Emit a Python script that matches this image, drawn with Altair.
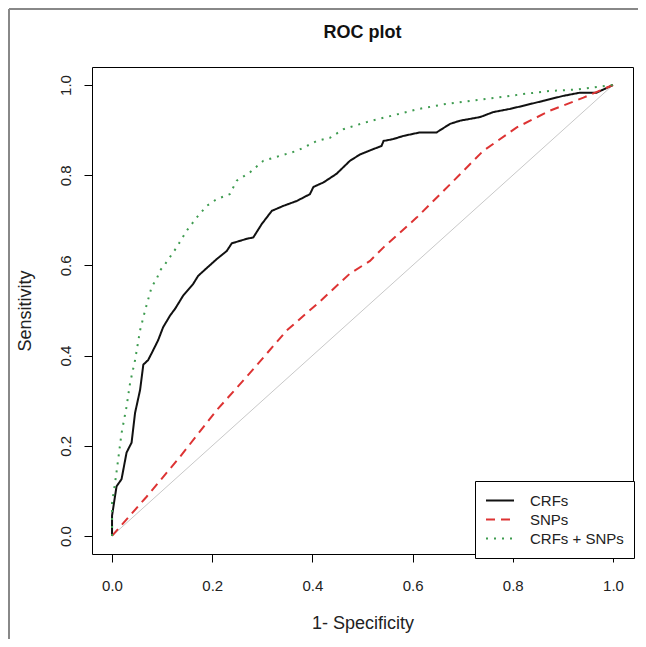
import altair as alt
import pandas as pd

series_names = ["CRFs", "SNPs", "CRFs + SNPs"]
series_colors = ["#111111", "#dd3333", "#3d9b4f"]
series_dashes = [[1, 0], [9, 6], [2, 6]]

crf_x = [0, 0, 0.009, 0.019, 0.029, 0.039, 0.046, 0.056, 0.0625, 0.072, 0.079, 0.092,
         0.102, 0.116, 0.126, 0.142, 0.162, 0.172, 0.196, 0.209, 0.229, 0.239, 0.269,
         0.282, 0.299, 0.319, 0.342, 0.369, 0.395, 0.402, 0.422, 0.448, 0.475, 0.495,
         0.515, 0.538, 0.542, 0.561, 0.581, 0.615, 0.648, 0.675, 0.695, 0.735, 0.761,
         0.794, 0.821, 0.861, 0.901, 0.934, 0.967, 1.0]
crf_y = [0, 0.045, 0.11, 0.126, 0.185, 0.207, 0.273, 0.324, 0.38, 0.39, 0.405, 0.434,
         0.463, 0.489, 0.504, 0.533, 0.559, 0.577, 0.601, 0.614, 0.632, 0.649, 0.659,
         0.662, 0.692, 0.721, 0.732, 0.743, 0.758, 0.774, 0.784, 0.803, 0.832, 0.846,
         0.855, 0.865, 0.876, 0.880, 0.887, 0.895, 0.895, 0.914, 0.921, 0.929, 0.940,
         0.947, 0.954, 0.965, 0.976, 0.983, 0.983, 1.0]

snp_x = [0, 0.069, 0.136, 0.209, 0.275, 0.349, 0.415, 0.475, 0.515, 0.542, 0.608,
         0.675, 0.741, 0.808, 0.874, 0.941, 1.0]
snp_y = [0, 0.087, 0.176, 0.279, 0.361, 0.456, 0.52, 0.582, 0.610, 0.640, 0.706,
         0.780, 0.854, 0.906, 0.943, 0.972, 1.0]

both_x = [0, 0, 0.006, 0.013, 0.019, 0.029, 0.036, 0.046, 0.056, 0.066, 0.079, 0.089,
          0.096, 0.106, 0.129, 0.149, 0.169, 0.189, 0.209, 0.235, 0.249, 0.275, 0.302,
          0.335, 0.369, 0.409, 0.435, 0.462, 0.488, 0.515, 0.555, 0.608, 0.661, 0.715,
          0.768, 0.821, 0.874, 0.928, 1.0]
both_y = [0, 0.073, 0.117, 0.176, 0.228, 0.287, 0.339, 0.39, 0.456, 0.500, 0.552, 0.570,
          0.589, 0.603, 0.640, 0.677, 0.706, 0.732, 0.747, 0.758, 0.788, 0.806, 0.832,
          0.843, 0.854, 0.876, 0.883, 0.902, 0.911, 0.920, 0.931, 0.946, 0.957, 0.965,
          0.972, 0.980, 0.987, 0.990, 1.0]

ref_x = [0, 1]
ref_y = [0, 1]

tick_values = [0, 0.2, 0.4, 0.6, 0.8, 1.0]

rows = []
for name, xs, ys in [("CRFs", crf_x, crf_y), ("SNPs", snp_x, snp_y),
                     ("CRFs + SNPs", both_x, both_y)]:
    for i, (a, b) in enumerate(zip(xs, ys)):
        rows.append({"series": name, "fpr": a, "tpr": b, "order": i})
df = pd.DataFrame(rows)
ref_df = pd.DataFrame({"fpr": ref_x, "tpr": ref_y})

FONT = "Liberation Sans"
W, H = 541, 487

xscale = alt.Scale(domain=[-0.04, 1.04], nice=False, zero=False)
yscale = alt.Scale(domain=[-0.04, 1.04], nice=False, zero=False)

xaxis = alt.Axis(values=tick_values, format=".1f", domain=False, grid=False,
                 tickSize=8, tickColor="black", tickWidth=1,
                 labelFont=FONT, labelFontSize=15, labelColor="#222222",
                 labelBaseline="middle", labelPadding=23,
                 title="1- Specificity", titleFont=FONT, titleFontSize=18,
                 titleFontWeight="normal", titleColor="#222222",
                 titleBaseline="middle", titleY=69, titleX=W / 2)
yaxis = alt.Axis(values=tick_values, format=".1f", domain=False, grid=False,
                 tickSize=8, tickColor="black", tickWidth=1,
                 labelFont=FONT, labelFontSize=15, labelColor="#222222",
                 labelAngle=270, labelAlign="center", labelBaseline="middle",
                 labelPadding=19,
                 title="Sensitivity", titleFont=FONT, titleFontSize=18,
                 titleFontWeight="normal", titleColor="#222222",
                 titleAngle=270, titleAlign="center", titleBaseline="middle",
                 titleX=-67, titleY=H / 2)

diag = alt.Chart(ref_df).mark_line(color="#c8c8c8", strokeWidth=1).encode(
    x=alt.X("fpr:Q", scale=xscale, axis=xaxis),
    y=alt.Y("tpr:Q", scale=yscale, axis=yaxis),
)

legend = alt.Legend(title=None, orient="none", legendX=383, legendY=414,
                    symbolType="stroke", symbolSize=784, symbolStrokeWidth=2,
                    labelFont=FONT, labelFontSize=15, labelColor="#222222",
                    labelOffset=15, padding=10, rowPadding=0, clipHeight=19,
                    strokeColor="black", fillColor="white", cornerRadius=0,
                    labelLimit=300)

lines = alt.Chart(df).mark_line(strokeWidth=2, strokeCap="butt").encode(
    x=alt.X("fpr:Q", scale=xscale, axis=xaxis),
    y=alt.Y("tpr:Q", scale=yscale, axis=yaxis),
    color=alt.Color("series:N", scale=alt.Scale(domain=series_names, range=series_colors),
                    legend=legend),
    strokeDash=alt.StrokeDash("series:N",
                              scale=alt.Scale(domain=series_names, range=series_dashes),
                              legend=legend),
    order=alt.Order("order:Q"),
)

frame_left = alt.Chart(ref_df).mark_rule(color="#888888", strokeWidth=2, clip=False).encode(
    x=alt.value(-83), y=alt.value(-58), y2=alt.value(H + 85))
frame_top = alt.Chart(ref_df).mark_rule(color="#888888", strokeWidth=2, clip=False).encode(
    x=alt.value(-83), x2=alt.value(W + 5), y=alt.value(-58))

chart = alt.layer(diag, lines, frame_left, frame_top).properties(
    width=W, height=H,
    title=alt.Title("ROC plot", font=FONT, fontSize=18, fontWeight="bold",
                    color="#111111", anchor="middle", frame="group",
                    baseline="alphabetic", offset=-48),
    padding={"left": 84, "top": 59, "right": 5, "bottom": 85},
    autosize=alt.AutoSizeParams(type="none"),
).configure_view(stroke="black", strokeWidth=1)

chart.save("out.html", embed_options={"renderer": "svg", "actions": False})
